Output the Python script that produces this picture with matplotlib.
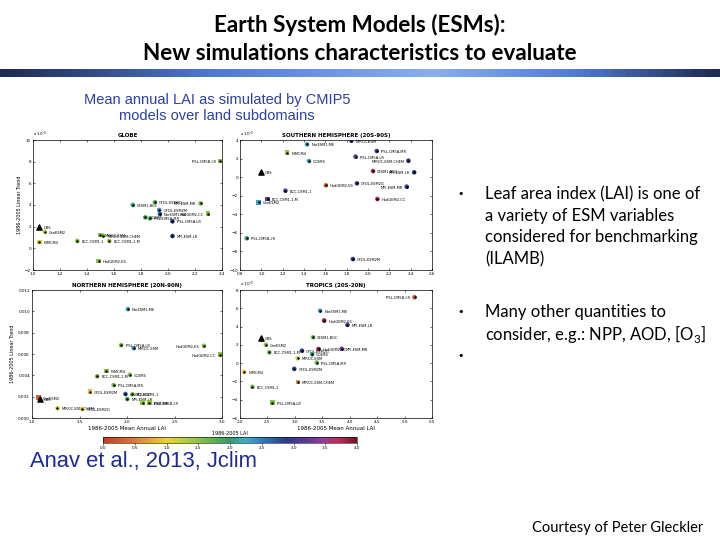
import numpy as np
import matplotlib
matplotlib.use('Agg')
import matplotlib.pyplot as plt
from matplotlib.colors import LinearSegmentedColormap, Normalize
from matplotlib.cm import ScalarMappable

# ---- data (LAI on x, 1986-2005 trend on y) ----
globe_names = ['OBS', 'CanESM2', 'INMCM4', 'BCC-CSM1-1', 'MIROC-ESM', 'MIROC-ESM-CHEM',
               'BCC-CSM1-1-M', 'HadGEM2-ES', 'CESM1-BGC', 'GFDL-ESM2G', 'GFDL-ESM2M',
               'NorESM1-ME', 'CCSM4', 'IPSL-CM5A-MR', 'IPSL-CM5A-LR', 'MPI-ESM-LR',
               'MPI-ESM-MR', 'HadGEM2-CC', 'IPSL-CM5B-LR']
globe_lai = [1.047, 1.086, 1.047, 1.328, 1.497, 1.519, 1.565, 1.487, 1.739, 1.903, 1.935,
             1.940, 1.832, 1.866, 2.033, 2.033, 2.241, 2.295, 2.388]
globe_trend = [1.94, 1.54, 0.58, 0.68, 1.23, 1.17, 0.68, -1.17, 4.0, 4.25, 3.54,
               3.17, 2.86, 2.77, 2.49, 1.14, 4.15, 3.2, 8.06]
globe_col = [0, 1.2, 1.1, 1.5, 1.5, 1.6, 1.4, 1.5, 2.1, 1.8, 2.4,
             2.7, 1.9, 1.8, 2.9, 2.9, 1.6, 1.5, 1.5]
globe_mark = ['^', 'o', 's', 'o', 's', 'o', 'o', 's', 'o', 'o', 'o',
              'o', 'o', 'o', 'o', 'o', 'o', 's', 's']

sh_names = ['OBS', 'INMCM4', 'NorESM1-ME', 'CCSM4', 'MIROC-ESM', 'IPSL-CM5A-LR',
            'IPSL-CM5A-MR', 'MIROC-ESM-CHEM', 'CESM1-BGC', 'MPI-ESM-LR', 'GFDL-ESM2G',
            'HadGEM2-ES', 'MPI-ESM-MR', 'HadGEM2-CC', 'BCC-CSM1-1', 'BCC-CSM1-1-M',
            'CanESM2', 'IPSL-CM5B-LR', 'GFDL-ESM2M']
sh_lai = [0.996, 1.242, 1.428, 1.447, 1.845, 1.883, 2.082, 2.379, 2.047, 2.433, 1.896,
          1.605, 2.363, 2.088, 1.226, 1.059, 0.974, 0.863, 1.858]
sh_trend = [0.59, 2.64, 3.53, 1.74, 3.93, 2.21, 2.82, 1.77, 0.66, 0.52, -0.67,
            -0.88, -1.03, -2.35, -1.46, -2.35, -2.71, -6.59, -8.82]
sh_col = [0, 1.5, 2.3, 2.3, 3.0, 3.2, 3.1, 2.9, 3.7, 2.9, 3.2,
          0.3, 2.9, 3.7, 3.1, 3.2, 2.3, 2.1, 2.9]
sh_mark = ['^', 's', 'o', 'o', 'o', 'o', 'o', 'o', 'o', 'o', 'o',
           'o', 'o', 'o', 'o', 's', 's', 'o', 'o']

nh_names = ['NorESM1-ME', 'IPSL-CM5A-LR', 'MIROC-ESM', 'HadGEM2-ES', 'HadGEM2-CC',
            'INMCM4', 'BCC-CSM1-1-M', 'CCSM4', 'IPSL-CM5A-MR', 'GFDL-ESM2M', 'CESM1-BGC',
            'BCC-CSM1-1', 'MPI-ESM-LR', 'MPI-ESM-MR', 'IPSL-CM5B-LR', 'CanESM2', 'OBS',
            'MIROC-ESM-CHEM', 'GFDL-ESM2G']
nh_lai = [2.009, 1.939, 2.071, 2.809, 2.983, 1.783, 1.685, 2.03, 1.859, 1.609, 1.984,
          2.057, 2.002, 2.165, 2.235, 1.07, 1.08, 1.268, 1.529]
nh_trend = [0.01021, 0.00683, 0.00655, 0.00677, 0.00594, 0.0044, 0.00391, 0.00406,
            0.00308, 0.00246, 0.00225, 0.00222, 0.00178, 0.00145, 0.00145, 0.00191,
            0.00178, 0.00092, 0.00086]
nh_col = [2.2, 1.6, 2.4, 1.5, 1.5, 1.5, 1.6, 1.5, 1.6, 0.9, 2.7,
          1.6, 1.8, 1.5, 1.5, 0.3, 0, 1.1, 0.9]
nh_mark = ['o', 'o', 'o', 'o', 's', 's', 'o', 'o', 'o', 's', 'o',
           'o', 'o', 's', 's', 's', '^', 'o', 'o']

tr_names = ['IPSL-CM5B-LR', 'NorESM1-ME', 'HadGEM2-ES', 'MPI-ESM-LR', 'OBS', 'CESM1-BGC',
            'CanESM2', 'BCC-CSM1-1-M', 'GFDL-ESM2G', 'HadGEM2-CC', 'MPI-ESM-MR',
            'CCSM4', 'MIROC-ESM', 'IPSL-CM5A-MR', 'GFDL-ESM2M', 'INMCM4',
            'MIROC-ESM-CHEM', 'BCC-CSM1-1', 'IPSL-CM5A-LR']
tr_lai = [5.181, 3.461, 3.535, 3.959, 2.381, 3.332, 2.473, 2.534, 3.13, 3.431, 3.854,
          3.314, 3.05, 3.4, 2.989, 2.074, 3.056, 2.227, 2.589]
tr_trend = [7.21, 5.74, 4.66, 4.19, 2.76, 2.83, 2.01, 1.18, 1.36, 1.54, 1.57,
            0.96, 0.53, 0.07, -0.62, -0.94, -2.05, -2.59, -4.31]
tr_col = [0.2, 2.3, 3.9, 3.2, 0, 1.6, 1.5, 1.6, 2.9, 3.9, 3.3,
          2.1, 1.2, 1.7, 2.8, 0.9, 0.7, 1.6, 1.6]
tr_mark = ['o', 'o', 'o', 'o', '^', 'o', 'o', 'o', 'o', 'o', 'o',
           'o', 'o', 'o', 'o', 'o', 's', 'o', 's']

cbar_ticks = [0, 0.5, 1, 1.5, 2, 2.5, 3, 3.5, 4]

bullets = [['Leaf area index (LAI) is one of', 'a variety of ESM variables',
            'considered for benchmarking', '(ILAMB)'],
           ['Many other quantities to', 'consider, e.g.: NPP, AOD, [O$_3$]'],
           ['']]

cmap = LinearSegmentedColormap.from_list('lai', [
    (0.0, '#c83c28'), (0.125, '#e07a30'), (0.25, '#f0d040'), (0.32, '#b8d040'),
    (0.42, '#6cb848'), (0.5, '#2e9e6a'), (0.56, '#3cb0c8'), (0.63, '#2f78c0'),
    (0.72, '#2c3a8e'), (0.8, '#5a3a98'), (0.87, '#9a3898'), (0.93, '#c02a5c'),
    (1.0, '#781020')])
norm = Normalize(0, 4)

plt.rcParams['font.family'] = ['DejaVu Sans']
plt.rcParams['mathtext.fontset'] = 'custom'
plt.rcParams['mathtext.rm'] = 'Lato'
fig = plt.figure(figsize=(7.2, 5.4), dpi=100)
fig.patch.set_facecolor('white')

# slide title + gradient rule
fig.text(0.5, 1 - 25/540, 'Earth System Models (ESMs):', ha='center', va='center',
         fontsize=16.2, family='Lato', fontweight='bold')
fig.text(0.5, 1 - 54/540, 'New simulations characteristics to evaluate', ha='center',
         va='center', fontsize=16.2, family='Lato', fontweight='bold')
bar = fig.add_axes([0, 1 - 77/540, 1, 8/540])
g = np.concatenate([np.linspace(0, 1, 60), np.linspace(1, 0, 40)])
bar.imshow(g[None, :], aspect='auto',
           cmap=LinearSegmentedColormap.from_list('rule', ['#1d2a55', '#4f7bd0', '#86aef0']))
bar.axis('off')

fig.text(217/720, 1 - 100/540, 'Mean annual LAI as simulated by CMIP5', ha='center',
         va='center', fontsize=10.5, color='#2a3fa8', family='Liberation Sans')
fig.text(217/720, 1 - 116/540, 'models over land subdomains', ha='center', va='center',
         fontsize=10.5, color='#2a3fa8', family='Liberation Sans')


def panel(rect, title, names, lai, trend, col, mark, xlim, xticks, ylim, yticks, sci=True):
    ax = fig.add_axes(rect)
    for i in range(len(names)):
        if mark[i] == '^':
            ax.scatter(lai[i], trend[i], marker='^', s=14, color='k', zorder=3)
        else:
            ax.scatter(lai[i], trend[i], marker=mark[i], s=11, color=cmap(norm(col[i])),
                       edgecolors='none', zorder=3)
            ax.scatter(lai[i], trend[i], marker='o', s=0.6, color='k', zorder=4)
        right = lai[i] > xlim[0] + 0.82*(xlim[1] - xlim[0])
        ax.annotate(names[i], (lai[i], trend[i]), xytext=(-3 if right else 3, -0.8),
                    textcoords='offset points', fontsize=2.6, va='center',
                    ha='right' if right else 'left')
    ax.set_xlim(xlim)
    ax.set_ylim(ylim)
    ax.set_xticks(xticks)
    ax.set_yticks(yticks)
    ax.tick_params(direction='in', length=1.5, width=0.4, labelsize=3, pad=1.5,
                   top=True, right=True)
    for s in ax.spines.values():
        s.set_linewidth(0.5)
    ax.set_title(title, fontsize=4, fontweight='bold', pad=2)
    if sci:
        ax.text(0.0, 1.03, r'x 10$^{-3}$', transform=ax.transAxes, fontsize=3)
    return ax


ax1 = panel([33/720, 1 - 270/540, 189/720, 130/540], 'GLOBE', globe_names, globe_lai,
            globe_trend, globe_col, globe_mark, (1, 2.4), np.arange(1, 2.41, 0.2),
            (-2, 10), np.arange(-2, 10.1, 2))
ax1.set_ylabel('1986-2005 Linear Trend', fontsize=3.5, labelpad=2)
ax2 = panel([240/720, 1 - 270/540, 192/720, 130/540], 'SOUTHERN HEMISPHERE (20S-90S)',
            sh_names, sh_lai, sh_trend, sh_col, sh_mark, (0.8, 2.6),
            np.arange(0.8, 2.61, 0.2), (-10, 4), np.arange(-10, 4.1, 2))
ax3 = panel([32/720, 1 - 418/540, 190/720, 128/540], 'NORTHERN HEMISPHERE (20N-90N)',
            nh_names, nh_lai, nh_trend, nh_col, nh_mark, (1, 3), np.arange(1, 3.01, 0.5),
            (0, 0.012), np.arange(0, 0.0121, 0.002), sci=False)
ax3.set_ylabel('1986-2005 Linear Trend', fontsize=3.5, labelpad=2)
ax3.set_xlabel('1986-2005 Mean Annual LAI', fontsize=4, labelpad=1.5)
ax4 = panel([240/720, 1 - 418/540, 192/720, 128/540], 'TROPICS (20S-20N)', tr_names,
            tr_lai, tr_trend, tr_col, tr_mark, (2, 5.5), np.arange(2, 5.51, 0.5),
            (-6, 8), np.arange(-6, 8.1, 2))
ax4.set_xlabel('1986-2005 Mean Annual LAI', fontsize=4, labelpad=1.5)

cax = fig.add_axes([103/720, 1 - 443/540, 254/720, 6/540])
cb = fig.colorbar(ScalarMappable(norm=norm, cmap=cmap), cax=cax, orientation='horizontal',
                  ticks=cbar_ticks)
cb.ax.tick_params(labelsize=3, length=1.2, width=0.4, pad=1)
cb.outline.set_linewidth(0.4)
cb.ax.set_title('1986-2005 LAI', fontsize=3.5, pad=1.5)

fig.text(30/720, 1 - 462/540, 'Anav et al., 2013, Jclim', ha='left', va='center',
         fontsize=15.8, color='#1c2a9c', family='Liberation Sans')

# bullet list, one text per line so the spacing follows the slide
for lines, yy in zip(bullets, [194, 312, 356]):
    fig.text(461/720, 1 - yy/540, '\u2022', ha='center', va='center', fontsize=8,
             family='DejaVu Sans')
    for k, line in enumerate(lines):
        fig.text(485/720, 1 - (yy + 21.7*k)/540, line, ha='left', va='center',
                 fontsize=12, family='Lato')

fig.text(703/720, 1 - 528/540, 'Courtesy of Peter Gleckler', ha='right', va='center',
         fontsize=10.5, family='Lato')

fig.savefig('out.png', dpi=100)
